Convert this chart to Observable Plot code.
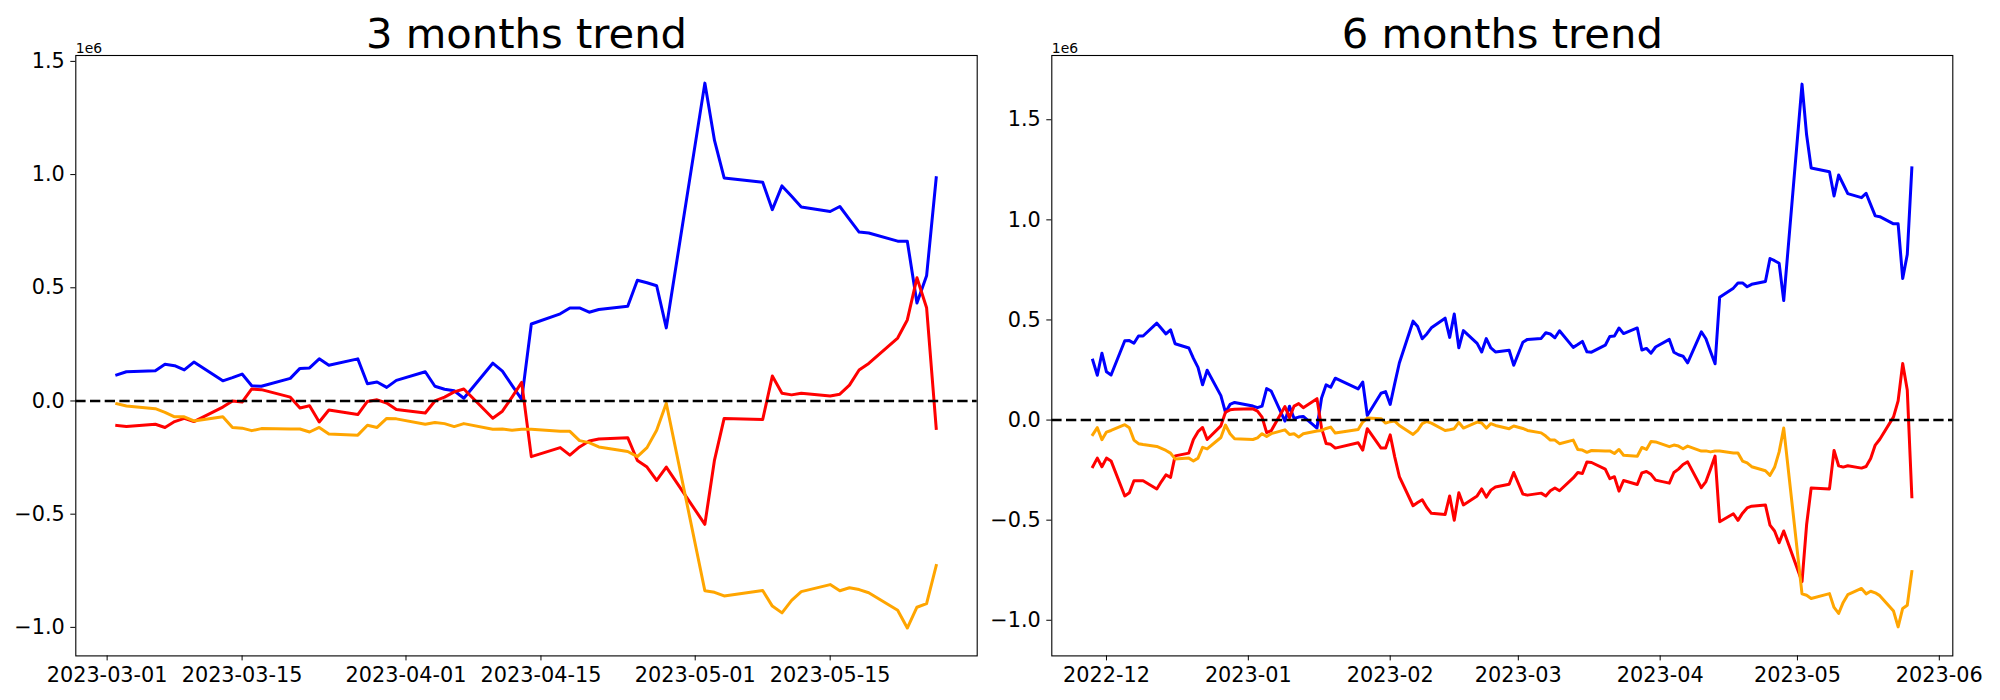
<!DOCTYPE html>
<html><head><meta charset="utf-8">
<script src="https://cdn.jsdelivr.net/npm/d3@7"></script>
<script src="https://cdn.jsdelivr.net/npm/@observablehq/plot@0.6"></script>
<style>
html,body{margin:0;padding:0;background:#fff;}
#wrap{display:flex;width:2000px;height:700px;overflow:hidden;}
#wrap svg{display:block;overflow:visible;}
</style></head><body><div id="wrap"></div>
<script>
// ---- 3 months trend (values in units of 1e6) ----
const dates3m = ["2023-03-02","2023-03-03","2023-03-06","2023-03-07","2023-03-08","2023-03-09","2023-03-10","2023-03-13","2023-03-14","2023-03-15","2023-03-16","2023-03-17","2023-03-20","2023-03-21","2023-03-22","2023-03-23","2023-03-24","2023-03-27","2023-03-28","2023-03-29","2023-03-30","2023-03-31",
"2023-04-03","2023-04-04","2023-04-05","2023-04-06","2023-04-07","2023-04-10","2023-04-11","2023-04-12","2023-04-13","2023-04-14","2023-04-17","2023-04-18","2023-04-19","2023-04-20","2023-04-21","2023-04-24","2023-04-25","2023-04-26","2023-04-27","2023-04-28",
"2023-05-02","2023-05-03","2023-05-04","2023-05-08","2023-05-09","2023-05-10","2023-05-11","2023-05-12","2023-05-15","2023-05-16","2023-05-17","2023-05-18","2023-05-19","2023-05-22","2023-05-23","2023-05-24","2023-05-25","2023-05-26"];
const blue3m = [0.115,0.129,0.134,0.162,0.156,0.137,0.172,0.089,0.103,0.119,0.067,0.065,0.100,0.144,0.146,0.186,0.158,0.186,0.076,0.084,0.060,0.091,
0.129,0.065,0.052,0.045,0.012,0.167,0.132,0.069,0.007,0.340,0.385,0.411,0.411,0.392,0.404,0.418,0.533,0.522,0.509,0.323,
1.404,1.151,0.985,0.966,0.845,0.950,0.904,0.857,0.837,0.859,0.802,0.746,0.742,0.706,0.706,0.433,0.553,0.986];
const red3m = [-0.108,-0.113,-0.103,-0.117,-0.091,-0.077,-0.091,-0.027,0.000,-0.005,0.053,0.050,0.017,-0.031,-0.021,-0.093,-0.040,-0.060,-0.002,0.005,-0.009,-0.038,
-0.053,0.000,0.017,0.040,0.053,-0.076,-0.045,0.017,0.082,-0.246,-0.206,-0.239,-0.203,-0.177,-0.168,-0.162,-0.263,-0.292,-0.351,-0.292,
-0.545,-0.261,-0.077,-0.082,0.110,0.034,0.027,0.034,0.022,0.030,0.070,0.137,0.166,0.278,0.358,0.544,0.412,-0.121];
const orange3m = [-0.012,-0.022,-0.034,-0.050,-0.070,-0.070,-0.088,-0.070,-0.117,-0.120,-0.131,-0.122,-0.124,-0.124,-0.137,-0.117,-0.146,-0.151,-0.107,-0.117,-0.077,-0.079,
-0.103,-0.095,-0.100,-0.113,-0.100,-0.125,-0.124,-0.129,-0.125,-0.125,-0.134,-0.134,-0.175,-0.184,-0.203,-0.223,-0.246,-0.206,-0.129,-0.010,
-0.838,-0.845,-0.861,-0.837,-0.906,-0.936,-0.881,-0.842,-0.811,-0.838,-0.825,-0.833,-0.847,-0.924,-1.003,-0.911,-0.895,-0.727];

// ---- 6 months trend (values in units of 1e6) ----
const datesBefore3m = ["2022-11-28","2022-11-29","2022-11-30",
"2022-12-01","2022-12-02","2022-12-05","2022-12-06","2022-12-07","2022-12-08","2022-12-09","2022-12-12","2022-12-13","2022-12-14","2022-12-15","2022-12-16","2022-12-19","2022-12-20","2022-12-21","2022-12-22","2022-12-23","2022-12-26","2022-12-27","2022-12-28","2022-12-29",
"2023-01-02","2023-01-03","2023-01-04","2023-01-05","2023-01-06","2023-01-09","2023-01-10","2023-01-11","2023-01-12","2023-01-13","2023-01-16","2023-01-17","2023-01-18","2023-01-19","2023-01-20","2023-01-25","2023-01-26","2023-01-27","2023-01-30","2023-01-31",
"2023-02-01","2023-02-02","2023-02-03","2023-02-06","2023-02-07","2023-02-08","2023-02-09","2023-02-10","2023-02-13","2023-02-14","2023-02-15","2023-02-16","2023-02-17","2023-02-20","2023-02-21","2023-02-22","2023-02-23","2023-02-24","2023-02-27","2023-02-28"];
const dates6m = datesBefore3m.concat(dates3m);
const blue6m = [0.299,0.224,0.334,
0.241,0.225,0.396,0.397,0.384,0.420,0.420,0.484,0.457,0.430,0.451,0.381,0.360,0.308,0.263,0.176,0.249,0.122,0.038,0.078,0.088,
0.070,0.062,0.070,0.157,0.145,-0.005,0.069,0.008,0.015,0.018,-0.040,0.110,0.176,0.164,0.209,0.156,0.190,0.023,0.134,0.142,
0.078,0.183,0.285,0.494,0.467,0.406,0.430,0.461,0.509,0.413,0.530,0.361,0.447,0.383,0.340,0.407,0.360,0.340,0.349,0.274,
0.389,0.403,0.408,0.436,0.430,0.411,0.446,0.363,0.377,0.393,0.341,0.339,0.374,0.418,0.420,0.460,0.432,0.460,0.350,0.358,0.334,0.365,
0.403,0.339,0.326,0.319,0.286,0.441,0.406,0.343,0.281,0.614,0.659,0.685,0.685,0.666,0.678,0.692,0.807,0.796,0.783,0.597,
1.678,1.425,1.259,1.240,1.119,1.224,1.178,1.131,1.111,1.133,1.076,1.020,1.016,0.980,0.980,0.707,0.827,1.260];
const red6m = [-0.233,-0.190,-0.233,
-0.190,-0.204,-0.379,-0.363,-0.303,-0.303,-0.303,-0.344,-0.307,-0.274,-0.286,-0.179,-0.165,-0.097,-0.058,-0.037,-0.097,-0.029,0.039,0.051,0.054,
0.056,0.045,0.015,-0.063,-0.053,0.068,0.012,0.070,0.082,0.062,0.107,-0.040,-0.117,-0.121,-0.140,-0.113,-0.150,-0.043,-0.140,-0.140,
-0.074,-0.185,-0.282,-0.428,-0.412,-0.398,-0.437,-0.466,-0.472,-0.379,-0.500,-0.363,-0.424,-0.379,-0.344,-0.385,-0.350,-0.334,-0.321,-0.262,
-0.370,-0.375,-0.365,-0.379,-0.353,-0.339,-0.353,-0.289,-0.262,-0.267,-0.209,-0.212,-0.245,-0.293,-0.283,-0.355,-0.302,-0.322,-0.264,-0.257,-0.271,-0.300,
-0.315,-0.262,-0.245,-0.222,-0.209,-0.338,-0.307,-0.245,-0.180,-0.508,-0.468,-0.501,-0.465,-0.439,-0.430,-0.424,-0.525,-0.554,-0.613,-0.554,
-0.807,-0.523,-0.339,-0.344,-0.152,-0.228,-0.235,-0.228,-0.240,-0.232,-0.192,-0.125,-0.096,0.016,0.096,0.282,0.150,-0.383];
const orange6m = [-0.073,-0.038,-0.098,
-0.060,-0.052,-0.023,-0.038,-0.100,-0.118,-0.122,-0.132,-0.142,-0.152,-0.165,-0.194,-0.190,-0.204,-0.190,-0.136,-0.144,-0.087,-0.025,-0.068,-0.093,
-0.097,-0.089,-0.068,-0.082,-0.068,-0.049,-0.072,-0.068,-0.085,-0.068,-0.055,-0.052,-0.042,-0.035,-0.065,-0.047,-0.010,0.010,0.007,-0.015,
-0.008,-0.005,-0.027,-0.072,-0.052,-0.018,-0.007,-0.015,-0.052,-0.048,-0.043,-0.012,-0.040,-0.010,-0.015,-0.040,-0.018,-0.027,-0.043,-0.030,
-0.042,-0.052,-0.064,-0.080,-0.100,-0.100,-0.118,-0.100,-0.147,-0.150,-0.161,-0.152,-0.154,-0.154,-0.167,-0.147,-0.176,-0.181,-0.137,-0.147,-0.107,-0.109,
-0.133,-0.125,-0.130,-0.143,-0.130,-0.155,-0.154,-0.159,-0.155,-0.155,-0.164,-0.164,-0.205,-0.214,-0.233,-0.253,-0.276,-0.236,-0.159,-0.040,
-0.868,-0.875,-0.891,-0.867,-0.936,-0.966,-0.911,-0.872,-0.841,-0.868,-0.855,-0.863,-0.877,-0.954,-1.033,-0.941,-0.925,-0.757];

// ---- axes ----
const yTickValues = [-1.0, -0.5, 0.0, 0.5, 1.0, 1.5];
const xTicks3m = ["2023-03-01","2023-03-15","2023-04-01","2023-04-15","2023-05-01","2023-05-15"];
const xTicks6m = ["2022-12-01","2023-01-01","2023-02-01","2023-03-01","2023-04-01","2023-05-01","2023-06-01"];
const seriesColors = ["blue","red","orange"];

const FONT = "DejaVu Sans";

function panel(cfg) {
  const rows = [];
  cfg.series.forEach((vals, k) => {
    cfg.dates.forEach((d, i) => rows.push({date: new Date(d + "T00:00:00Z"), value: vals[i], s: k}));
  });
  const lines = cfg.series.map((vals, k) =>
    Plot.line(rows.filter(r => r.s === k), {x: "date", y: "value", stroke: seriesColors[k], strokeWidth: 3, strokeLinejoin: "round", strokeLinecap: "square"}));
  return Plot.plot({
    width: cfg.width, height: 700,
    marginLeft: cfg.ml, marginRight: cfg.mr, marginTop: 55, marginBottom: 44.6,
    style: {fontFamily: FONT, background: "white", color: "black", overflow: "visible"},
    x: {type: "utc", domain: cfg.xDomain, label: null},
    y: {domain: cfg.yDomain, label: null},
    marks: [
      ...lines,
      Plot.ruleY([0], {stroke: "black", strokeWidth: 2.4, strokeDasharray: "10.3,4.4"}),
      Plot.frame({stroke: "black", strokeWidth: 1.1}),
      Plot.axisX({ticks: cfg.xTicks.map(d => new Date(d + "T00:00:00Z")), tickFormat: cfg.xFormat, tickSize: 5, tickPadding: 6, fontSize: 20.8, label: null}),
      Plot.axisY({ticks: yTickValues, tickFormat: d3.format(".1f"), tickSize: 5, tickPadding: 6, fontSize: 20.8, label: null}),
      Plot.text([cfg.title], {text: d => d, frameAnchor: "top", lineAnchor: "bottom", dy: -8, fontSize: 41.7}),
      Plot.text(["1e6"], {text: d => d, frameAnchor: "top-left", textAnchor: "start", lineAnchor: "bottom", dy: -3, fontSize: 13.9})
    ]
  });
}

const day = 864e5;
const left = panel({
  width: 980, ml: 75.3, mr: 3.3,
  title: "3 months trend",
  dates: dates3m, series: [blue3m, red3m, orange3m],
  xDomain: [new Date(Date.UTC(2023,2,1) - 3.25*day), new Date(Date.UTC(2023,2,1) + 90.25*day)],
  xTicks: xTicks3m, xFormat: d3.utcFormat("%Y-%m-%d"),
  yDomain: [-1.126, 1.526]
});
const right = panel({
  width: 1020, ml: 71.3, mr: 47.7,
  title: "6 months trend",
  dates: dates6m, series: [blue6m, red6m, orange6m],
  xDomain: [new Date(Date.UTC(2022,11,1) - 11.95*day), new Date(Date.UTC(2022,11,1) + 184.95*day)],
  xTicks: xTicks6m, xFormat: d3.utcFormat("%Y-%m"),
  yDomain: [-1.178, 1.821]
});
document.getElementById("wrap").append(left, right);
</script>
</body></html>
